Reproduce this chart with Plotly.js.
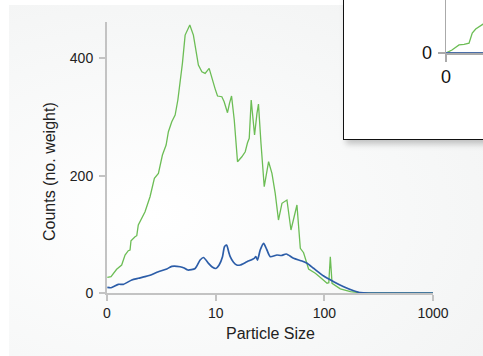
<!DOCTYPE html>
<html>
<head>
<meta charset="utf-8">
<script src="https://cdn.plot.ly/plotly-3.0.1.min.js"></script>
<style>
  html, body { margin:0; padding:0; width:483px; height:356px; overflow:hidden; background:#ffffff; }
  #panel { position:absolute; left:9px; top:5px; width:474px; height:351px;
           background: radial-gradient(ellipse at 30% 60%, #ffffff 0%, #f7f8f8 55%, #f1f2f2 100%); }
  #main { position:absolute; left:0; top:0; width:483px; height:356px; }
  #insetBox { position:absolute; left:343px; top:-62px; width:200px; height:200px;
              background:#ffffff; border:1.5px solid #111; box-shadow: 3px 4px 6px rgba(0,0,0,0.22); }
  #inset { position:absolute; left:0; top:0; width:200px; height:200px; }
</style>
</head>
<body>
<div id="panel"></div>
<div id="main"></div>
<div id="insetBox"><div id="inset"></div></div>
<script>
// ---- main chart data (particle size vs counts) ----
const greenSize = [1.007,1.089,1.227,1.365,1.466,1.570,1.629,1.663,1.811,1.879,1.941,2.163,2.239,2.489,2.729,2.972,3.236,3.499,3.673,3.945,4.236,4.487,4.710,4.943,5.236,5.781,6.237,6.577,6.934,7.464,7.998,8.710,9.226,9.886,10.40,11.40,11.97,12.85,13.40,14.00,14.83,15.89,17.42,18.71,19.63,20.37,21.23,22.03,22.80,23.99,24.77,26.12,27.99,30.69,32.96,35.32,37.84,40.74,45.29,49.32,55.98,60.12,64.42,71.61,82.60,93.76,105.9,109.9,113.5,117.8,140.3,173.8,214.8,300,500,1000];
const greenCounts = [26.8,27.8,40.4,47.7,64.8,72.1,73.3,89.1,96,97.7,115.9,133,138.6,164.1,195.5,204,235.2,252.3,274.9,292,303.4,329,357.4,391.5,439.7,456.8,439.7,417.1,388.6,377.2,374.5,383,366,348,335.8,334.6,326.1,307.3,323.3,335.8,294.9,223.8,232.3,240.8,256.2,263.7,329,300.5,269.3,306.3,322.1,255.2,181.2,223.8,204,169.9,124.4,152.9,158.5,107.4,150,76.2,68.7,40.9,33.6,25.1,16.5,17.6,61.9,16.5,7.2,2.2,0.5,0,0,0];

const blueSize = [1.007,1.089,1.271,1.413,1.690,1.941,2.239,2.489,2.972,3.548,3.945,4.710,5.129,5.546,6.471,7.194,7.727,8.590,9.290,10.05,10.76,11.56,12.05,12.62,13.18,13.61,14.59,15.63,16.83,19.41,22.65,23.39,24.27,25.70,27.61,29.65,31.77,36.64,40.18,44.67,52.12,62.23,69.34,79.62,98.63,121.9,150.7,186.2,214.8,265.5,400,1000];
const blueCounts = [9.7,9,14.8,14.8,22.2,25.1,27.8,30.2,36.3,40.9,45.5,44.8,42.6,39.2,41.8,56.2,60.5,50.6,44.3,41.8,47.7,61.9,78.9,81.8,69.9,61.9,52.3,47.7,47.7,53.3,59.1,62.2,56.2,73.3,84.7,73.3,61.9,64.8,63.9,66.5,59.1,54.5,50.6,42.1,29,19.3,10.7,3.9,0.5,0,0,0];

const xTickVals = [1,10,100,1000];
const xTickText = ["0","10","100","1000"];
const yTickVals = [0,200,400];
const yTickText = ["0","200","400"];

// ---- inset (partially visible) data ----
const insetX = [0,0.61,1.33,1.84,2.35,2.68,3.03,3.67,3.9];
const insetGreen = [0,2.65,7.1,7.5,8.6,17.4,21,24.8,26];
const insetBlueX = [0,4];
const insetBlue = [0,0];

const GREEN = '#6cbd55';
const BLUE = '#2c5da8';
const AXIS = '#c3c3c3';
const FONT = 'Liberation Sans, Arial, sans-serif';

Plotly.newPlot('main', [
  { x: greenSize, y: greenCounts, type:'scatter', mode:'lines',
    line:{color:GREEN, width:1.3}, hoverinfo:'skip' },
  { x: blueSize, y: blueCounts, type:'scatter', mode:'lines',
    line:{color:BLUE, width:1.7, shape:'spline', smoothing:0.6}, hoverinfo:'skip' }
], {
  width:483, height:356,
  margin:{l:107, r:50, t:22, b:63, pad:0},
  paper_bgcolor:'rgba(0,0,0,0)', plot_bgcolor:'rgba(0,0,0,0)',
  showlegend:false,
  font:{family:FONT, size:14, color:'#222'},
  xaxis:{ type:'log', range:[0,3], tickvals:xTickVals, ticktext:xTickText,
    showgrid:false, zeroline:false, showline:true, linecolor:AXIS, linewidth:2,
    ticks:'outside', ticklen:6, tickwidth:2, tickcolor:AXIS,
    tickfont:{family:FONT, size:14, color:'#222'} },
  yaxis:{ range:[0,462], tickvals:yTickVals, ticktext:yTickText,
    showgrid:false, zeroline:false, showline:true, linecolor:AXIS, linewidth:2,
    ticks:'outside', ticklen:6, tickwidth:2, tickcolor:AXIS, ticklabelstandoff:3,
    tickfont:{family:FONT, size:14, color:'#222'} },
  annotations:[
    { text:'Counts (no. weight)', xref:'paper', yref:'paper', x:-0.178, y:0.45,
      textangle:-90, showarrow:false, xanchor:'center', yanchor:'middle',
      font:{family:FONT, size:16, color:'#222'} },
    { text:'Particle Size', xref:'paper', yref:'paper', x:0.5, y:-0.148,
      showarrow:false, xanchor:'center', yanchor:'middle',
      font:{family:FONT, size:16, color:'#222'} }
  ]
}, {staticPlot:true, displayModeBar:false});

Plotly.newPlot('inset', [
  { x: insetX, y: insetGreen, type:'scatter', mode:'lines',
    line:{color:GREEN, width:1.3}, hoverinfo:'skip' },
  { x: insetBlueX, y: insetBlue, type:'scatter', mode:'lines',
    line:{color:'#4a6ea8', width:2}, hoverinfo:'skip' }
], {
  width:200, height:200,
  margin:{l:102, r:0, t:0, b:86, pad:0},
  paper_bgcolor:'rgba(0,0,0,0)', plot_bgcolor:'rgba(0,0,0,0)',
  showlegend:false,
  xaxis:{ range:[0,10], tickvals:[0], ticktext:['0'], showgrid:false, zeroline:false,
    showline:true, linecolor:'#aaaaaa', linewidth:1.5, ticks:'outside', ticklen:7, tickwidth:1.5, tickcolor:'#aaaaaa',
    tickfont:{family:FONT, size:18, color:'#111'} },
  yaxis:{ range:[0,100], tickvals:[0], ticktext:['0'], showgrid:false, zeroline:false,
    showline:true, linecolor:'#aaaaaa', linewidth:1.5, ticks:'outside', ticklen:7, tickwidth:1.5, tickcolor:'#aaaaaa',
    ticklabelstandoff:2, tickfont:{family:FONT, size:18, color:'#111'} }
}, {staticPlot:true, displayModeBar:false});
</script>
</body>
</html>
